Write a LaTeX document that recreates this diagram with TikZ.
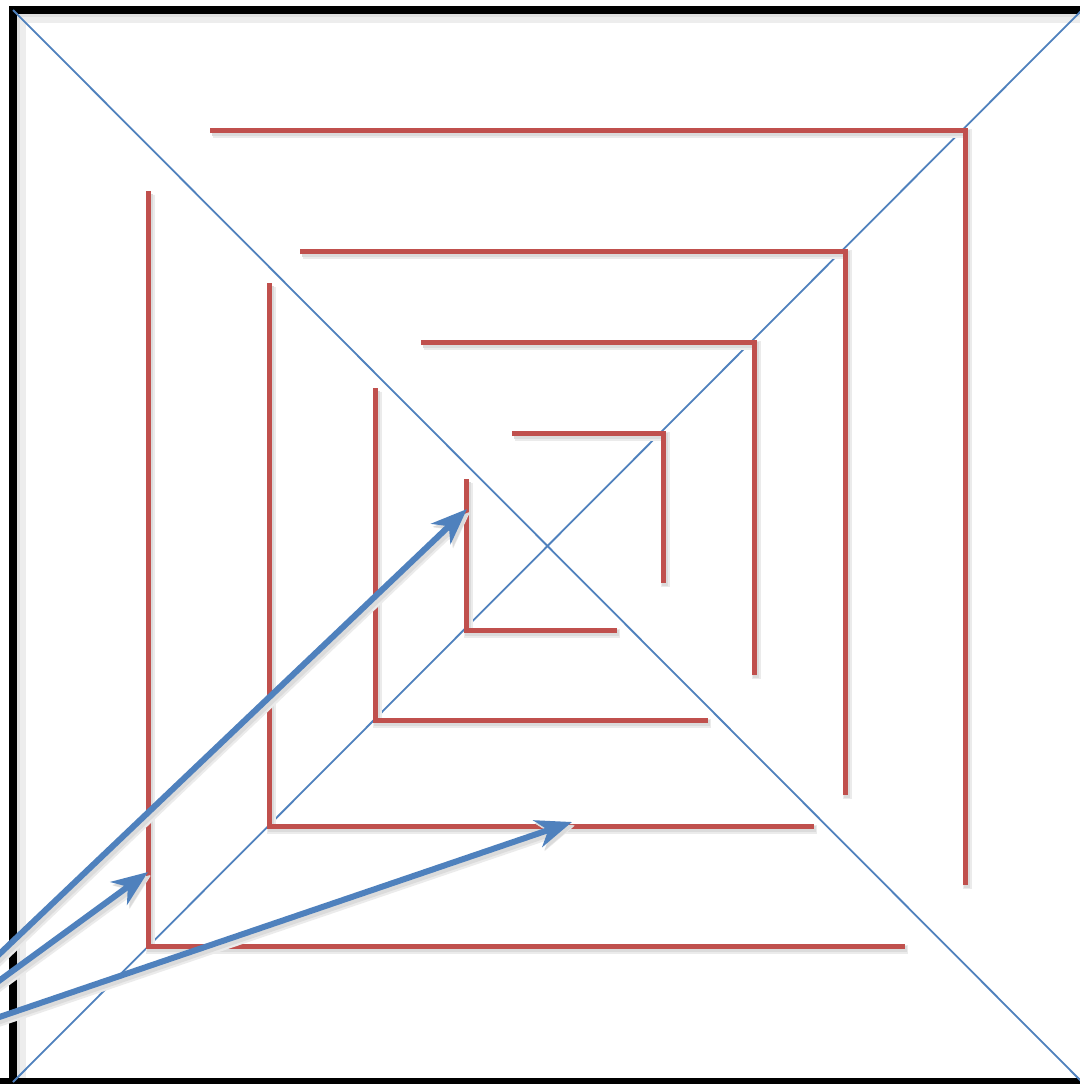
\documentclass[tikz,border=0pt]{standalone}
\usetikzlibrary{arrows.meta}
\definecolor{redl}{HTML}{C0504D}
\definecolor{bluel}{HTML}{4F81BD}
\begin{document}
\begin{tikzpicture}[x=0.5pt,y=-0.5pt,
  shadowed/.style={
    preaction={draw=black!8,line width=#1+1.6pt,transform canvas={xshift=1.4pt,yshift=-1.8pt}},
    preaction={draw=black!14,line width=#1,transform canvas={xshift=1.2pt,yshift=-1.5pt}}},
  wall/.style={shadowed=3pt,draw=redl,line width=2.5pt,line cap=butt,line join=miter},
  frameline/.style={draw=black,line width=4pt},
  diag/.style={draw=bluel,line width=0.9pt},
  pointer/.style={shadowed=3.4pt,draw=bluel,line width=3pt,-{Stealth[length=18pt,width=14pt,inset=5.5pt]}}
]
\useasboundingbox (0,0) rectangle (1080,1084);
\clip (0,0) rectangle (1080,1084);
\fill[white] (0,0) rectangle (1080,1084);

% frame corners
\coordinate (tl) at (13,10);
\coordinate (tr) at (1082,10);
\coordinate (bl) at (13,1082);
\coordinate (br) at (1082,1082);

% frame shadow
\draw[draw=black!7,line width=6pt] (20,1090) -- (20,17) -- (1090,17);
\draw[draw=black!12,line width=3pt] (17,1090) -- (17,14) -- (1090,14);
\draw[frameline] (13,1090) -- (13,10) -- (1095,10);
\draw[frameline] (0,1082) -- (1095,1082);

% diagonals
\draw[diag] (tl) -- (br);
\draw[diag] (bl) -- (tr);

% upper-right L shapes
\draw[wall] (210,130) -- (965,130) -- (965,885);
\draw[wall] (300,251) -- (845,251) -- (845,795);
\draw[wall] (421,342) -- (754,342) -- (754,675);
\draw[wall] (512,433) -- (663,433) -- (663,583);

% lower-left L shapes
\draw[wall] (148,191) -- (148,946) -- (905,946);
\draw[wall] (269,283) -- (269,826) -- (814,826);
\draw[wall] (375,388) -- (375,720) -- (708,720);
\draw[wall] (466,479) -- (466,630) -- (617,630);

% arrows
\coordinate (s1) at (-30,982);
\coordinate (s2) at (-30,1002);
\coordinate (s3) at (-30,1027);
\coordinate (t1) at (467,509);
\coordinate (t2) at (148,872);
\coordinate (t3) at (572,822);
\draw[pointer] (s1) -- (t1);
\draw[pointer] (s2) -- (t2);
\draw[pointer] (s3) -- (t3);
\end{tikzpicture}
\end{document}
